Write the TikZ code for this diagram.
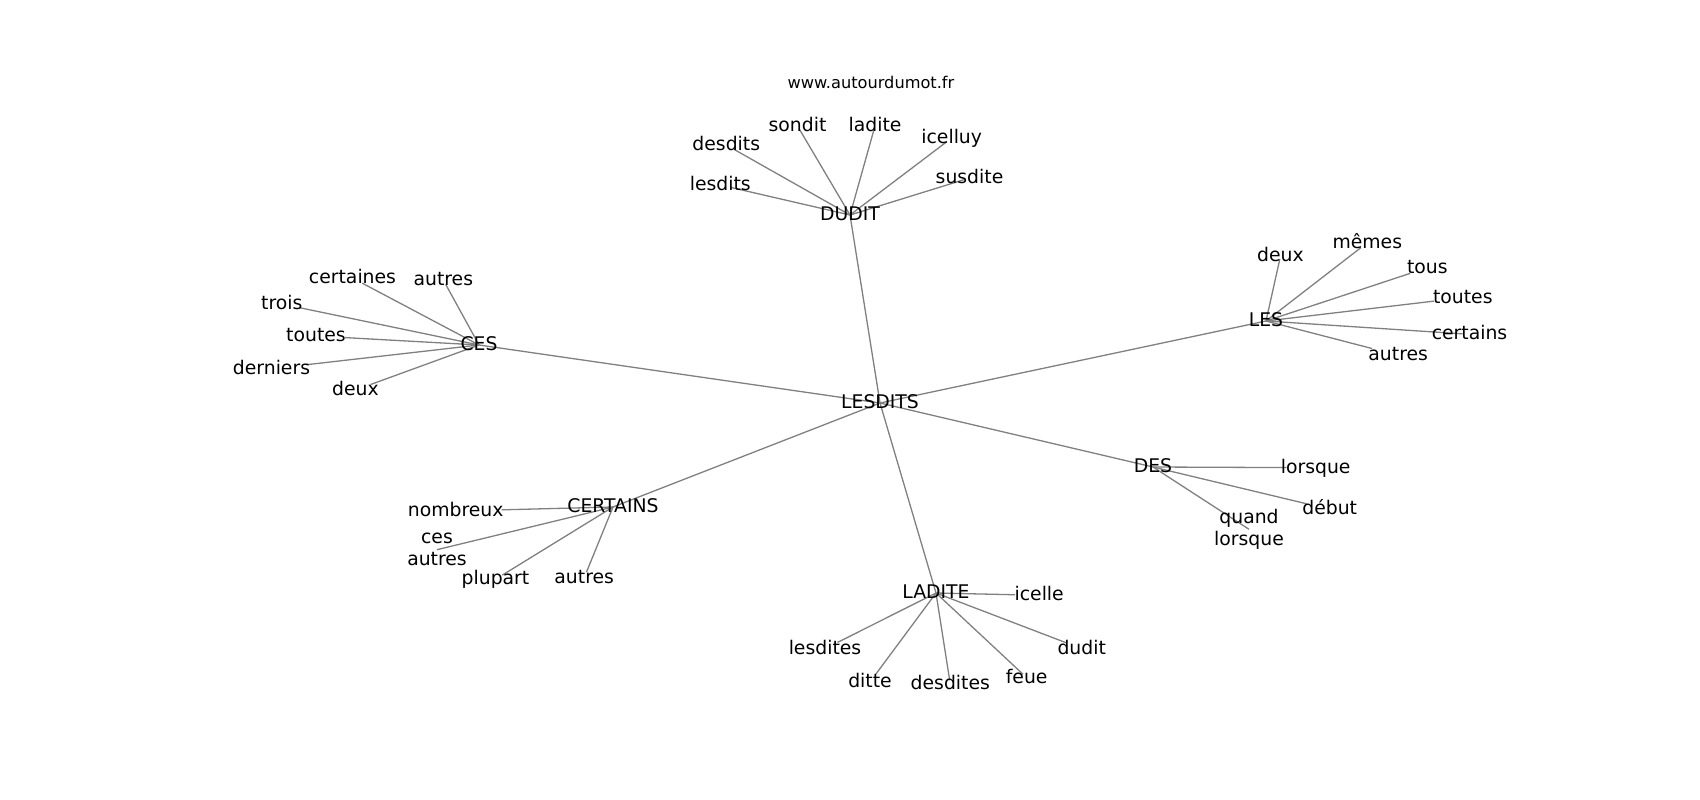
\documentclass[tikz,border=0pt]{standalone}
\usepackage{fontspec}
\setmainfont{DejaVu Sans}
\usetikzlibrary{backgrounds}
\definecolor{edgec}{RGB}{128,128,128}
\begin{document}
\begin{tikzpicture}[x=1pt,y=-1pt,
  lab/.style={inner sep=0pt, text height=16.6pt, text depth=5.6pt, font=\fontsize{18.8}{22}\selectfont},
  lab2/.style={inner sep=0pt, anchor=north, align=center, font=\fontsize{18.8}{22}\selectfont},
  titlestyle/.style={inner sep=0pt, anchor=base, font=\fontsize{16.2}{19}\selectfont},
  edge/.style={draw=edgec, line width=1.3pt}]
\useasboundingbox (0,0) rectangle (1700,800);

% title
\node[titlestyle] (title) at (871,88.3) {www.autourdumot.fr};

% hubs
\node[lab] (LESDITS) at (880,403) {LESDITS};
\node[lab] (DUDIT) at (850,215) {DUDIT};
\node[lab] (CES) at (479,345) {CES};
\node[lab] (LES) at (1266,321) {LES};
\node[lab] (DES) at (1153,467) {DES};
\node[lab] (CERTAINS) at (613,507) {CERTAINS};
\node[lab] (LADITE) at (936,593) {LADITE};

% DUDIT leaves
\node[lab] (sondit) at (797.5,126) {sondit};
\node[lab] (ladite) at (875,126) {ladite};
\node[lab] (desdits) at (726.3,145) {desdits};
\node[lab] (icelluy) at (951.7,138) {icelluy};
\node[lab] (lesdits) at (720.3,185) {lesdits};
\node[lab] (susdite) at (969.5,178) {susdite};

% CES leaves
\node[lab] (certaines) at (352.5,278) {certaines};
\node[lab] (cesautres) at (443.3,280) {autres};
\node[lab] (trois) at (281.8,304) {trois};
\node[lab] (cestoutes) at (316,336) {toutes};
\node[lab] (derniers) at (271.5,368.7) {derniers};
\node[lab] (cesdeux) at (355.5,390) {deux};

% LES leaves
\node[lab] (lesdeux) at (1280.5,256) {deux};
\node[lab] (memes) at (1367.3,242.7) {mêmes};
\node[lab] (tous) at (1427.3,267.7) {tous};
\node[lab] (lestoutes) at (1462.8,297.7) {toutes};
\node[lab] (certains) at (1469.5,334.3) {certains};
\node[lab] (lesautres) at (1398.2,355.3) {autres};

% DES leaves
\node[lab] (lorsque) at (1315.7,467.7) {lorsque};
\node[lab] (debut) at (1329.7,509.3) {début};
\node[lab2] (quand) at (1249,509) {quand\\lorsque};

% CERTAINS leaves
\node[lab] (nombreux) at (455.7,511) {nombreux};
\node[lab2] (cesaut) at (437,529.4) {\vphantom{l}ces\\autres\vphantom{p}};
\node[lab] (plupart) at (495.5,579.3) {plupart};
\node[lab] (certautres) at (584.2,577.7) {autres};

% LADITE leaves
\node[lab] (icelle) at (1039.2,595.3) {icelle};
\node[lab] (lesdites) at (825,648.7) {lesdites};
\node[lab] (ditte) at (870,682) {ditte};
\node[lab] (desdites) at (950.3,684.3) {desdites};
\node[lab] (feue) at (1026.7,677.7) {feue};
\node[lab] (dudit) at (1081.7,648.7) {dudit};

\begin{pgfonlayer}{background}
% hub edges
\foreach \h in {DUDIT,CES,LES,DES,CERTAINS,LADITE}
  \draw[edge] (LESDITS.center) -- (\h.center);

% DUDIT edges
\draw[edge, shorten >=3pt] (DUDIT.center) -- (sondit.center);
\draw[edge, shorten >=4pt] (DUDIT.center) -- (ladite.center);
\draw[edge, shorten >=9pt] (DUDIT.center) -- (desdits.center);
\draw[edge, shorten >=6pt] (DUDIT.center) -- (icelluy.center);
\draw[edge, shorten >=10pt] (DUDIT.center) -- (lesdits.center);
\draw[edge, shorten >=6pt] (DUDIT.center) -- (susdite.center);

% CES edges
\draw[edge, shorten >=11pt] (CES.center) -- (certaines.center);
\draw[edge, shorten >=5pt] (CES.center) -- (cesautres.center);
\draw[edge, shorten >=18pt] (CES.center) -- (trois.center);
\draw[edge, shorten >=29pt] (CES.center) -- (cestoutes.center);
\draw[edge, shorten >=35pt] (CES.center) -- (derniers.center);
\draw[edge, shorten >=16pt] (CES.center) -- (cesdeux.center);

% LES edges
\draw[edge, shorten >=3pt] (LES.center) -- (lesdeux.center);
\draw[edge, shorten >=8pt] (LES.center) -- (memes.center);
\draw[edge, shorten >=18pt] (LES.center) -- (tous.center);
\draw[edge, shorten >=29pt] (LES.center) -- (lestoutes.center);
\draw[edge, shorten >=7pt] (LES.center) -- (certains.center);
\draw[edge, shorten >=27pt] (LES.center) -- (lesautres.center);

% DES edges
\draw[edge, shorten >=29pt] (DES.center) -- (lorsque.center);
\draw[edge, shorten >=24pt] (DES.center) -- (debut.center);
\draw[edge] (DES.center) -- (quand.center);

% CERTAINS edges
\draw[edge, shorten >=46pt] (CERTAINS.center) -- (nombreux.center);
\draw[edge] (CERTAINS.center) -- (cesaut.center);
\draw[edge, shorten >=8pt] (CERTAINS.center) -- (plupart.center);
\draw[edge, shorten >=6pt] (CERTAINS.center) -- (certautres.center);

% LADITE edges
\draw[edge, shorten >=24pt] (LADITE.center) -- (icelle.center);
\draw[edge, shorten >=14pt] (LADITE.center) -- (lesdites.center);
\draw[edge, shorten >=10pt] (LADITE.center) -- (ditte.center);
\draw[edge, shorten >=4pt] (LADITE.center) -- (desdites.center);
\draw[edge, shorten >=5pt] (LADITE.center) -- (feue.center);
\draw[edge, shorten >=16pt] (LADITE.center) -- (dudit.center);
\end{pgfonlayer}
\end{tikzpicture}
\end{document}
